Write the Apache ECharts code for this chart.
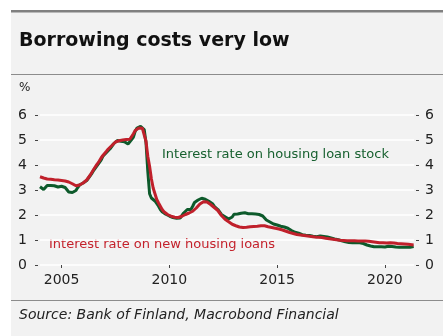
<!DOCTYPE html>
<html>
<head>
<meta charset="utf-8">
<script src="https://cdn.jsdelivr.net/npm/echarts@6/dist/echarts.min.js"></script>
<style>html,body{margin:0;padding:0;background:#fff}#c{width:443px;height:336px}</style>
</head>
<body>
<div id="c"></div>
<script>
// Monthly data, Jan 2004 – May 2021
var startYear = 2004;
var stockRate = [
  3.13,3.05,3.02,3.10,3.18,3.20,3.18,3.15,3.17,3.14,3.12,3.16,
  3.15,3.18,3.10,3.05,2.92,2.88,2.90,2.93,2.98,3.10,3.20,3.25,
  3.28,3.32,3.38,3.48,3.58,3.68,3.80,3.90,4.00,4.10,4.20,4.35,
  4.42,4.50,4.55,4.65,4.75,4.85,4.92,4.98,4.96,4.95,4.97,4.93,
  4.88,4.84,4.92,5.02,5.12,5.35,5.48,5.52,5.55,5.50,5.42,4.90,
  3.75,2.85,2.68,2.62,2.56,2.50,2.35,2.22,2.13,2.08,2.03,1.99,
  1.96,1.93,1.90,1.88,1.87,1.86,1.88,1.95,2.08,2.15,2.22,2.20,
  2.22,2.35,2.50,2.55,2.60,2.66,2.67,2.62,2.63,2.60,2.55,2.52,
  2.45,2.35,2.27,2.22,2.12,2.02,1.96,1.93,1.88,1.84,1.82,1.92,
  2.03,2.06,2.04,2.05,2.07,2.08,2.09,2.07,2.05,2.04,2.05,2.04,
  2.04,2.03,2.02,2.00,1.96,1.88,1.80,1.74,1.72,1.68,1.64,1.61,
  1.60,1.58,1.55,1.53,1.52,1.50,1.47,1.43,1.38,1.34,1.31,1.28,
  1.27,1.24,1.21,1.20,1.19,1.18,1.18,1.17,1.15,1.14,1.13,1.15,
  1.16,1.15,1.14,1.13,1.12,1.10,1.08,1.06,1.04,1.03,1.01,0.99,
  0.97,0.95,0.93,0.91,0.90,0.89,0.89,0.90,0.89,0.88,0.89,0.88,
  0.86,0.84,0.80,0.78,0.76,0.74,0.73,0.72,0.73,0.72,0.73,0.73,
  0.72,0.73,0.75,0.76,0.74,0.73,0.72,0.73,0.71,0.71,0.71,0.72,
  0.71,0.70,0.71,0.72,0.74
];
var newLoanRate = [
  3.53,3.50,3.48,3.46,3.44,3.43,3.43,3.42,3.41,3.40,3.40,3.39,
  3.38,3.37,3.36,3.35,3.32,3.28,3.25,3.20,3.17,3.17,3.20,3.25,
  3.28,3.32,3.40,3.50,3.60,3.72,3.84,3.95,4.05,4.16,4.28,4.38,
  4.46,4.55,4.64,4.70,4.78,4.86,4.92,4.95,4.97,4.98,5.00,5.01,
  5.02,5.00,5.03,5.10,5.25,5.38,5.45,5.48,5.48,5.47,5.45,4.95,
  4.35,3.95,3.45,3.08,2.85,2.62,2.48,2.35,2.22,2.13,2.07,2.02,
  1.98,1.95,1.92,1.91,1.90,1.90,1.92,1.95,1.98,2.02,2.05,2.08,
  2.10,2.15,2.20,2.28,2.36,2.44,2.50,2.53,2.53,2.52,2.48,2.42,
  2.36,2.30,2.24,2.18,2.08,1.98,1.90,1.83,1.77,1.73,1.68,1.63,
  1.60,1.57,1.55,1.52,1.51,1.50,1.50,1.51,1.52,1.53,1.53,1.54,
  1.55,1.55,1.56,1.57,1.58,1.57,1.56,1.53,1.51,1.50,1.49,1.47,
  1.46,1.44,1.42,1.40,1.37,1.35,1.32,1.30,1.28,1.26,1.24,1.22,
  1.21,1.20,1.19,1.18,1.17,1.16,1.15,1.14,1.13,1.12,1.12,1.11,
  1.11,1.10,1.08,1.07,1.06,1.05,1.04,1.03,1.02,1.01,1.00,0.99,
  0.99,0.98,0.98,0.97,0.97,0.97,0.97,0.97,0.96,0.96,0.96,0.96,
  0.96,0.96,0.96,0.95,0.94,0.93,0.92,0.91,0.90,0.89,0.89,0.89,
  0.89,0.88,0.88,0.89,0.88,0.88,0.87,0.86,0.86,0.85,0.85,0.84,
  0.83,0.83,0.82,0.81,0.80
];
var yearTicks = [2005, 2010, 2015, 2020];
var title = 'Borrowing costs very low';
var unitLabel = '%';
var stockName = 'Interest rate on housing loan stock';
var newName = 'Interest rate on new housing loans';
var sourceText = 'Source: Bank of Finland, Macrobond Financial';

function toPairs(arr) {
  return arr.map(function (v, i) { return [startYear + i / 12, v]; });
}

var FONT = 'DejaVu Sans';
var chart = echarts.init(document.getElementById('c'), null, {renderer: 'canvas'});
var yAxisBase = {
  type: 'value', min: 0, max: 6, interval: 1, offset: 2,
  axisLine: {show: false},
  axisTick: {show: true, length: 3, lineStyle: {color: '#444', width: 1}},
  axisLabel: {color: '#222', fontFamily: FONT, fontSize: 14},
  splitLine: {show: false}
};
chart.setOption({
  backgroundColor: '#ffffff',
  animation: false,
  graphic: [
    {type: 'rect', silent: true, z: -10, shape: {x: 11, y: 10, width: 432, height: 326}, style: {fill: '#f2f2f2'}},
    {type: 'rect', silent: true, z: -9, shape: {x: 11, y: 10, width: 432, height: 2.5}, style: {fill: '#808080'}},
    {type: 'rect', silent: true, z: -9, shape: {x: 11, y: 74, width: 432, height: 1}, style: {fill: '#8c8c8c'}},
    {type: 'rect', silent: true, z: -9, shape: {x: 11, y: 300, width: 432, height: 1}, style: {fill: '#8c8c8c'}},
    {type: 'text', left: 19, top: 32, style: {text: title, fontFamily: FONT, fontSize: 19, fontWeight: 'bold', fill: '#111'}},
    {type: 'text', left: 19, top: 82, style: {text: unitLabel, fontFamily: FONT, fontSize: 12, fill: '#222'}},
    {type: 'text', left: 162, top: 148, style: {text: stockName, fontFamily: FONT, fontSize: 13, fill: '#17602f'}},
    {type: 'text', left: 49, top: 238, style: {text: newName, fontFamily: FONT, fontSize: 13, fill: '#c4222c'}},
    {type: 'text', left: 19, top: 308, style: {text: sourceText, fontFamily: FONT, fontSize: 14, fontStyle: 'italic', fill: '#222'}}
  ],
  grid: {left: 40, right: 29, top: 115, bottom: 71, containLabel: false},
  xAxis: {
    type: 'value', min: 2004, max: 2021.35,
    axisLine: {show: false},
    splitLine: {show: false},
    axisTick: {show: true, length: 3, customValues: yearTicks, lineStyle: {color: '#444'}},
    axisLabel: {customValues: yearTicks, margin: 8, color: '#222', fontFamily: FONT, fontSize: 14,
      formatter: function (v) { return String(v); }}
  },
  yAxis: [
    Object.assign({}, yAxisBase, {position: 'left', axisLabel: Object.assign({}, yAxisBase.axisLabel, {margin: 11}),
      splitLine: {show: true, lineStyle: {color: '#ffffff', width: 1.5}}}),
    Object.assign({}, yAxisBase, {position: 'right', axisLabel: Object.assign({}, yAxisBase.axisLabel, {margin: 9})})
  ],
  series: [
    {type: 'line', name: stockName, data: toPairs(stockRate), showSymbol: false, smooth: false,
      lineStyle: {color: '#0d5a2b', width: 3}, z: 2},
    {type: 'line', name: newName, data: toPairs(newLoanRate), showSymbol: false, smooth: false,
      lineStyle: {color: '#c0202b', width: 3}, z: 3}
  ]
});
</script>
</body>
</html>
